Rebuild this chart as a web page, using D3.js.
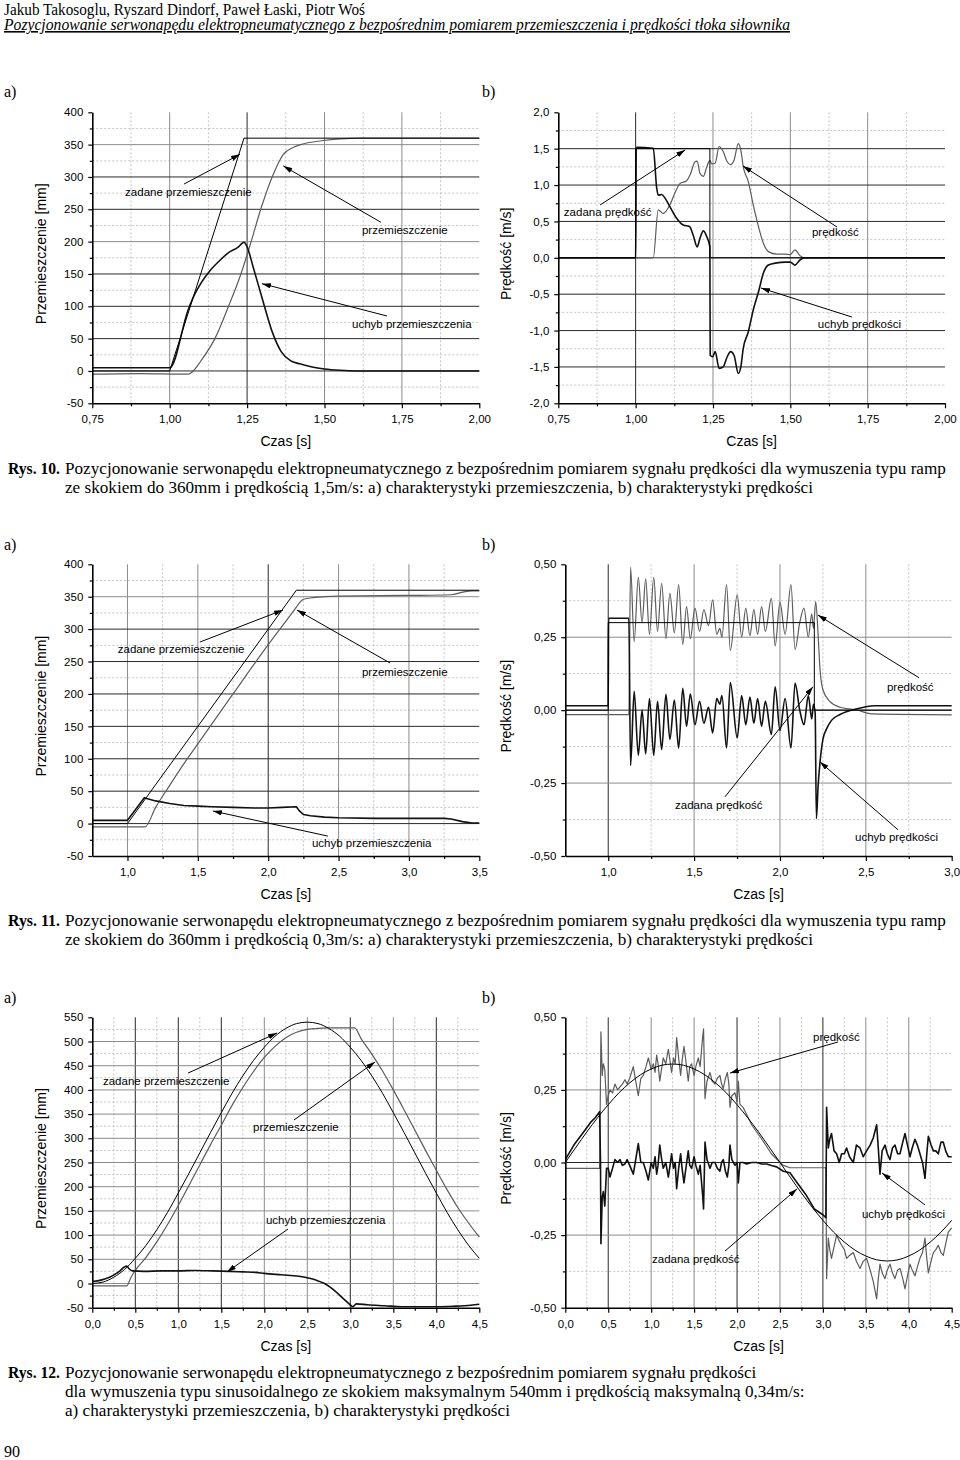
<!DOCTYPE html>
<html><head><meta charset="utf-8">
<script src="https://cdn.jsdelivr.net/npm/d3@7"></script>
<style>body{margin:0;background:#fff}</style>
</head><body><svg id="page" width="960" height="1460"></svg>
<script>
// ===================== DATA =====================
// Tick values
const xTicks10 = [0.75, 1.00, 1.25, 1.50, 1.75, 2.00];
const yTicksPos10 = [-50, 0, 50, 100, 150, 200, 250, 300, 350, 400];
const yTicksVel10 = [-2.0, -1.5, -1.0, -0.5, 0.0, 0.5, 1.0, 1.5, 2.0];
const xTicks11a = [1.0, 1.5, 2.0, 2.5, 3.0, 3.5];
const xTicks11b = [1.0, 1.5, 2.0, 2.5, 3.0];
const yTicksPos11 = [-50, 0, 50, 100, 150, 200, 250, 300, 350, 400];
const yTicksVel11 = [-0.50, -0.25, 0.00, 0.25, 0.50];
const xTicks12 = [0.0, 0.5, 1.0, 1.5, 2.0, 2.5, 3.0, 3.5, 4.0, 4.5];
const yTicksPos12 = [-50, 0, 50, 100, 150, 200, 250, 300, 350, 400, 450, 500, 550];
const yTicksVel12 = [-0.50, -0.25, 0.00, 0.25, 0.50];

// Rys. 10 a) displacement [s, mm]
const zadane10 = [[0.75,0],[1.00,0],[1.24,360],[2.00,360]];
const przem10 = [[0.75,-5],[0.90,-4],[1.06,-5],[1.076,0],[1.10,15],[1.146,50],[1.19,100],[1.23,150],[1.263,200],[1.294,250],[1.331,300],[1.367,335],[1.40,346],[1.43,351],[1.49,356],[1.55,359],[1.62,360],[1.80,360],[2.00,360]];
const uchyb10 = [[0.75,5],[1.00,5],[1.06,95],[1.08,118],[1.10,135],[1.13,155],[1.16,170],[1.19,183],[1.22,191],[1.24,199],[1.25,192],[1.27,160],[1.30,110],[1.33,62],[1.36,30],[1.39,16],[1.42,11],[1.46,6],[1.50,3],[1.55,1],[1.60,0],[2.00,0]];
// Rys. 10 b) velocity [s, m/s]
const zadanaV10 = [[0.75,0],[1.00,0],[1.00,1.5],[1.24,1.5],[1.24,0],[2.00,0]];
const predkosc10 = [[0.75,0],[1.057,0],[1.073,0.66],[1.089,0.61],[1.111,0.73],[1.127,0.89],[1.143,1.02],[1.165,1.06],[1.176,1.14],[1.192,1.32],[1.199,1.33],[1.208,1.16],[1.219,1.12],[1.23,1.25],[1.24,1.34],[1.246,1.29],[1.257,1.30],[1.27,1.53],[1.283,1.46],[1.296,1.32],[1.307,1.28],[1.318,1.34],[1.332,1.57],[1.34,1.48],[1.348,1.25],[1.364,1.05],[1.380,0.73],[1.397,0.43],[1.413,0.20],[1.429,0.085],[1.456,0.05],[1.483,0.05],[1.50,0.045],[1.515,0.11],[1.531,0.03],[1.547,0.0],[2.00,0.0]];
const uchybV10 = [[0.75,0],[1.00,0],[1.002,1.52],[1.057,1.505],[1.068,0.96],[1.073,0.86],[1.084,0.87],[1.095,0.82],[1.111,0.70],[1.133,0.54],[1.154,0.45],[1.174,0.43],[1.186,0.31],[1.199,0.15],[1.208,0.27],[1.219,0.37],[1.23,0.29],[1.24,0.15],[1.241,-1.34],[1.249,-1.36],[1.257,-1.29],[1.27,-1.52],[1.283,-1.50],[1.296,-1.36],[1.307,-1.29],[1.318,-1.34],[1.332,-1.59],[1.34,-1.50],[1.348,-1.24],[1.364,-1.02],[1.380,-0.72],[1.397,-0.47],[1.413,-0.21],[1.429,-0.10],[1.456,-0.07],[1.483,-0.06],[1.50,-0.06],[1.515,-0.10],[1.531,-0.03],[1.547,0.0],[2.00,0.0]];

// Rys. 11 a)
const zadane11 = [[0.75,0],[1.00,0],[2.20,360],[3.50,360]];
const przem11 = [[0.75,-5],[1.125,-5],[1.20,25],[1.30,59],[1.40,92],[1.50,123],[1.75,200],[2.00,276],[2.20,334],[2.22,340],[2.25,346],[2.30,348],[2.40,350],[2.50,351],[3.00,352],[3.30,353],[3.38,357],[3.45,359],[3.50,359]];
const uchyb11 = [[0.75,5],[1.00,5],[1.12,40],[1.13,39],[1.20,35],[1.30,31],[1.40,28],[1.50,27],[1.60,26],[1.75,25],[1.90,24],[2.00,24],[2.10,25],[2.20,26],[2.22,20],[2.25,14],[2.30,12],[2.40,10],[2.50,9],[2.75,8],[3.00,8],[3.25,8],[3.30,7],[3.38,3],[3.45,1],[3.50,1]];
// Rys. 11 b)
const zadanaV11 = [[0.75,0],[1.00,0],[1.00,0.3],[2.20,0.3],[2.20,0],[3.00,0]];
const predkosc11 = [[0.75,-0.015],[1.12,-0.015],[1.13,0.49],[1.151,0.235],[1.175,0.455],[1.197,0.30],[1.218,0.45],[1.24,0.26],[1.265,0.455],[1.287,0.27],[1.311,0.435],[1.336,0.246],[1.359,0.40],[1.385,0.265],[1.41,0.43],[1.434,0.225],[1.456,0.355],[1.478,0.245],[1.505,0.35],[1.532,0.27],[1.557,0.345],[1.584,0.29],[1.608,0.378],[1.632,0.26],[1.65,0.28],[1.662,0.25],[1.689,0.43],[1.711,0.205],[1.751,0.395],[1.777,0.25],[1.801,0.35],[1.825,0.255],[1.848,0.345],[1.87,0.26],[1.893,0.355],[1.915,0.27],[1.95,0.383],[1.972,0.22],[2.0,0.37],[2.03,0.26],[2.064,0.43],[2.088,0.207],[2.115,0.30],[2.14,0.35],[2.165,0.25],[2.185,0.33],[2.195,0.28],[2.208,0.372],[2.222,0.26],[2.232,0.15],[2.25,0.07],[2.29,0.03],[2.35,0.01],[2.45,0.0],[2.54,-0.013],[3.0,-0.016]];
const uchybV11 = [[0.75,0.015],[1.00,0.015],[1.002,0.315],[1.12,0.315],[1.13,-0.19],[1.151,0.065],[1.175,-0.155],[1.197,0.0],[1.218,-0.15],[1.24,0.04],[1.265,-0.155],[1.287,0.03],[1.311,-0.135],[1.336,0.054],[1.359,-0.10],[1.385,0.035],[1.41,-0.13],[1.434,0.075],[1.456,-0.055],[1.478,0.055],[1.505,-0.05],[1.532,0.03],[1.557,-0.045],[1.584,0.01],[1.608,-0.078],[1.632,0.04],[1.65,0.02],[1.662,0.05],[1.689,-0.13],[1.711,0.095],[1.751,-0.095],[1.777,0.05],[1.801,-0.05],[1.825,0.045],[1.848,-0.045],[1.87,0.04],[1.893,-0.055],[1.915,0.03],[1.95,-0.083],[1.972,0.08],[2.0,-0.07],[2.03,0.04],[2.064,-0.13],[2.088,0.093],[2.115,0.0],[2.14,-0.05],[2.165,0.05],[2.185,-0.03],[2.195,0.02],[2.205,-0.01],[2.212,-0.372],[2.222,-0.26],[2.233,-0.18],[2.25,-0.10],[2.27,-0.066],[2.30,-0.035],[2.35,-0.015],[2.45,0.005],[2.55,0.015],[3.0,0.015]];

// Rys. 12 a)
const zadane12 = [[0,0],[0.125,3],[0.25,13],[0.375,29],[0.5,52],[0.625,79],[0.75,111],[0.875,147],[1.0,187],[1.125,228],[1.25,270],[1.375,312],[1.5,353],[1.625,393],[1.75,429],[1.875,461],[2.0,488],[2.125,511],[2.25,527],[2.375,537],[2.5,540],[2.625,537],[2.75,527],[2.875,511],[3.0,488],[3.125,461],[3.25,429],[3.375,393],[3.5,353],[3.625,312],[3.75,270],[3.875,228],[4.0,187],[4.125,147],[4.25,111],[4.375,79],[4.5,52]];
const przem12 = [[0,-5],[0.40,-5],[0.45,13],[0.50,27],[0.625,54],[0.75,86],[0.875,122],[1.0,161],[1.125,203],[1.25,245],[1.375,287],[1.5,327],[1.625,368],[1.75,405],[1.875,438],[2.0,467],[2.125,490],[2.25,508],[2.375,519],[2.5,525],[2.625,527],[2.75,528],[3.05,528],[3.125,506],[3.25,474],[3.375,439],[3.5,400],[3.625,359],[3.75,317],[3.875,275],[4.0,234],[4.125,194],[4.25,157],[4.375,125],[4.5,96]];
const uchyb12 = [[0,4],[0.1,7],[0.2,13],[0.3,23],[0.40,36],[0.43,30],[0.47,26],[0.6,25],[0.8,26],[1.0,26],[1.2,27],[1.4,26],[1.6,25],[1.75,24],[1.9,23],[2.0,21],[2.2,18],[2.4,15],[2.5,12],[2.6,7],[2.7,0],[2.8,-12],[2.9,-28],[2.98,-41],[3.03,-48],[3.07,-42],[3.2,-44],[3.4,-46],[3.6,-48],[3.8,-48],[4.0,-48],[4.2,-47],[4.4,-45],[4.5,-43]];
// Rys. 12 b)
const zadanaV12 = [[0,0],[0.125,0.053],[0.25,0.105],[0.375,0.154],[0.5,0.199],[0.625,0.240],[0.75,0.274],[0.875,0.302],[1.0,0.322],[1.125,0.335],[1.25,0.339],[1.375,0.335],[1.5,0.322],[1.625,0.302],[1.75,0.274],[1.875,0.240],[2.0,0.199],[2.125,0.154],[2.25,0.105],[2.375,0.053],[2.5,0],[2.625,-0.053],[2.75,-0.105],[2.875,-0.154],[3.0,-0.199],[3.125,-0.240],[3.25,-0.274],[3.375,-0.302],[3.5,-0.322],[3.625,-0.335],[3.75,-0.339],[3.875,-0.335],[4.0,-0.322],[4.125,-0.302],[4.25,-0.274],[4.375,-0.240],[4.5,-0.199]];
const predkosc12 = [[0,-0.02],[0.40,-0.02],[0.415,0.45],[0.43,0.30],[0.443,0.34],[0.46,0.32],[0.48,0.20],[0.50,0.23],[0.52,0.25],[0.55,0.24],[0.578,0.27],[0.61,0.25],[0.637,0.26],[0.665,0.27],[0.695,0.285],[0.72,0.27],[0.75,0.29],[0.792,0.33],[0.82,0.28],[0.85,0.23],[0.88,0.29],[0.908,0.30],[0.94,0.33],[0.967,0.36],[1.0,0.32],[1.025,0.34],[1.045,0.31],[1.064,0.37],[1.08,0.34],[1.10,0.28],[1.12,0.32],[1.141,0.36],[1.17,0.34],[1.20,0.39],[1.22,0.35],[1.238,0.31],[1.26,0.36],[1.28,0.34],[1.297,0.43],[1.32,0.36],[1.343,0.30],[1.36,0.35],[1.382,0.40],[1.40,0.36],[1.432,0.28],[1.45,0.33],[1.471,0.34],[1.50,0.30],[1.52,0.33],[1.549,0.36],[1.57,0.33],[1.599,0.43],[1.61,0.46],[1.627,0.22],[1.65,0.28],[1.685,0.31],[1.71,0.28],[1.743,0.27],[1.77,0.29],[1.801,0.30],[1.82,0.27],[1.84,0.255],[1.865,0.29],[1.887,0.31],[1.905,0.27],[1.918,0.19],[1.94,0.23],[1.976,0.24],[2.0,0.21],[2.015,0.28],[2.034,0.20],[2.07,0.19],[2.112,0.165],[2.17,0.13],[2.228,0.105],[2.29,0.08],[2.345,0.055],[2.40,0.03],[2.461,0.012],[2.539,-0.01],[2.616,-0.018],[3.035,-0.018],[3.043,-0.40],[3.063,-0.26],[3.08,-0.30],[3.10,-0.33],[3.13,-0.29],[3.16,-0.25],[3.19,-0.27],[3.218,-0.285],[3.25,-0.30],[3.276,-0.33],[3.31,-0.32],[3.354,-0.31],[3.39,-0.34],[3.432,-0.365],[3.47,-0.34],[3.509,-0.33],[3.55,-0.37],[3.587,-0.41],[3.626,-0.47],[3.645,-0.40],[3.665,-0.35],[3.69,-0.38],[3.723,-0.40],[3.75,-0.37],[3.781,-0.35],[3.81,-0.38],[3.839,-0.40],[3.87,-0.37],[3.898,-0.365],[3.93,-0.40],[3.956,-0.435],[3.985,-0.39],[4.014,-0.35],[4.04,-0.37],[4.072,-0.39],[4.10,-0.36],[4.13,-0.33],[4.16,-0.31],[4.189,-0.26],[4.21,-0.33],[4.228,-0.38],[4.26,-0.34],[4.286,-0.31],[4.315,-0.30],[4.344,-0.285],[4.375,-0.31],[4.402,-0.32],[4.43,-0.28],[4.46,-0.24],[4.5,-0.225]];
const uchybV12 = [[0,0.01],[0.05,0.035],[0.10,0.06],[0.15,0.08],[0.20,0.10],[0.25,0.12],[0.30,0.14],[0.35,0.155],[0.40,0.175],[0.41,0.0],[0.415,-0.28],[0.43,-0.12],[0.443,-0.10],[0.46,-0.15],[0.48,-0.02],[0.50,-0.02],[0.52,-0.05],[0.55,-0.02],[0.578,0.01],[0.61,0.0],[0.637,0.01],[0.665,-0.01],[0.695,-0.005],[0.72,0.01],[0.75,-0.01],[0.792,-0.04],[0.82,0.01],[0.85,0.065],[0.88,0.0],[0.908,0.0],[0.94,-0.03],[0.967,-0.06],[1.0,0.0],[1.025,-0.02],[1.045,0.02],[1.064,-0.04],[1.08,-0.01],[1.10,0.06],[1.12,0.015],[1.141,-0.02],[1.17,0.0],[1.20,-0.05],[1.22,-0.01],[1.238,0.03],[1.26,-0.02],[1.28,0.0],[1.297,-0.09],[1.32,-0.02],[1.343,0.03],[1.36,-0.02],[1.382,-0.07],[1.40,-0.03],[1.432,0.04],[1.45,-0.01],[1.471,-0.02],[1.50,0.02],[1.52,-0.01],[1.549,-0.04],[1.57,-0.01],[1.599,-0.11],[1.61,-0.16],[1.627,0.07],[1.65,0.01],[1.685,-0.02],[1.71,0.0],[1.743,0.0],[1.77,-0.02],[1.801,-0.03],[1.82,0.0],[1.84,0.01],[1.865,-0.03],[1.887,-0.05],[1.905,-0.01],[1.918,0.06],[1.94,0.01],[1.976,-0.01],[2.0,0.0],[2.015,-0.07],[2.034,0.0],[2.07,0.0],[2.112,-0.005],[2.17,0.0],[2.228,0.0],[2.29,-0.005],[2.345,-0.005],[2.40,-0.01],[2.461,-0.015],[2.539,-0.03],[2.616,-0.035],[2.70,-0.07],[2.80,-0.11],[2.90,-0.16],[3.0,-0.18],[3.035,-0.19],[3.043,0.19],[3.063,0.05],[3.08,0.08],[3.10,0.10],[3.13,0.04],[3.16,0.03],[3.19,0.0],[3.218,0.03],[3.25,0.03],[3.276,0.05],[3.31,0.02],[3.354,0.0],[3.39,0.06],[3.432,0.05],[3.47,0.02],[3.509,0.04],[3.55,0.06],[3.587,0.085],[3.626,0.13],[3.645,0.05],[3.665,-0.04],[3.69,0.04],[3.723,0.06],[3.75,0.03],[3.781,0.01],[3.81,0.05],[3.839,0.06],[3.87,0.03],[3.898,0.03],[3.93,0.07],[3.956,0.10],[3.985,0.06],[4.014,0.02],[4.04,0.05],[4.072,0.08],[4.10,0.06],[4.13,0.03],[4.16,0.0],[4.189,-0.055],[4.21,0.03],[4.228,0.09],[4.26,0.06],[4.286,0.04],[4.315,0.04],[4.344,0.03],[4.375,0.07],[4.402,0.07],[4.43,0.04],[4.46,0.02],[4.5,0.02]];

// Texts
const headerAuthors = "Jakub Takosoglu, Ryszard Dindorf, Paweł Łaski, Piotr Woś";
const headerTitle = "Pozycjonowanie serwonapędu elektropneumatycznego z bezpośrednim pomiarem przemieszczenia i prędkości tłoka siłownika";
const captions = [
  {no:"Rys. 10.", lines:["Pozycjonowanie serwonapędu elektropneumatycznego z bezpośrednim pomiarem sygnału prędkości dla wymuszenia typu ramp","ze skokiem do 360mm i prędkością 1,5m/s: a) charakterystyki przemieszczenia, b) charakterystyki prędkości"]},
  {no:"Rys. 11.", lines:["Pozycjonowanie serwonapędu elektropneumatycznego z bezpośrednim pomiarem sygnału prędkości dla wymuszenia typu ramp","ze skokiem do 360mm i prędkością 0,3m/s: a) charakterystyki przemieszczenia, b) charakterystyki prędkości"]},
  {no:"Rys. 12.", lines:["Pozycjonowanie serwonapędu elektropneumatycznego z bezpośrednim pomiarem sygnału prędkości","dla wymuszenia typu sinusoidalnego ze skokiem maksymalnym 540mm i prędkością maksymalną 0,34m/s:","a) charakterystyki przemieszczenia, b) charakterystyki prędkości"]}
];
const pageNumber = "90";

// ===================== STYLE / LAYOUT =====================
const SANS = "'Liberation Sans', Arial, sans-serif";
const SERIF = "'Liberation Serif', 'Times New Roman', serif";
const ST_SET = {color:"#000", width:1.0};
const ST_ERR = {color:"#111", width:1.6};
const ST_ACT = {color:"#5c5c5c", width:1.2};
const GRID_DARK = "#2a2a2a", GRID_LIGHT = "#8c8c8c", GRID_MINOR = "#c4c4c4";
const CURVES = {lin: d3.curveLinear, mono: d3.curveMonotoneX};

const svg = d3.select("#page");
svg.append("rect").attr("width",960).attr("height",1460).attr("fill","#fff");
const defs = svg.append("defs");
defs.append("marker").attr("id","arr").attr("viewBox","0 0 10 6")
  .attr("refX",10).attr("refY",3).attr("markerWidth",9).attr("markerHeight",5.4)
  .attr("markerUnits","userSpaceOnUse").attr("orient","auto")
  .append("path").attr("d","M0,0 L10,3 L0,6 Z").attr("fill","#000");

const fmt = dec => d => d.toFixed(dec).replace(".", ",");

const charts = [
 {left:92.3,right:479.3,top:112.3,bottom:403.3,xDomain:[0.75,2.0],yDomain:[-50,400],xTicks:xTicks10,yTicks:yTicksPos10,xDec:2,yDec:0,
  yTitle:"Przemieszczenie [mm]",titleX:41.5,darkX:[1.25],darkY:[300,250,150,100,50,0],
  series:[[przem10,ST_ACT,"mono"],[uchyb10,ST_ERR,"mono"],[zadane10,ST_SET,"lin"]],
  notes:[{t:"zadane przemieszczenie",tx:0.856,ty:271,x1:1.046,y1:289,x2:1.227,y2:335},
         {t:"przemieszczenie",tx:1.621,ty:212,x1:1.682,y1:230,x2:1.367,y2:317},
         {t:"uchyb przemieszczenia",tx:1.589,ty:66,x1:1.702,y1:85,x2:1.298,y2:135}]},
 {left:558.3,right:945,top:112.3,bottom:403.3,xDomain:[0.75,2.0],yDomain:[-2,2],xTicks:xTicks10,yTicks:yTicksVel10,xDec:2,yDec:1,
  yTitle:"Prędkość [m/s]",titleX:505.7,darkX:[1.0],darkY:[1.5,1.0,0.5,0,-0.5,-1.0,-1.5],
  series:[[predkosc10,ST_ACT,"mono"],[uchybV10,ST_ERR,"mono"],[zadanaV10,ST_SET,"lin"]],
  notes:[{t:"zadana prędkość",tx:0.768,ty:0.575,x1:0.885,y1:0.726,x2:1.160,y2:1.482},
         {t:"prędkość",tx:1.570,ty:0.30,x1:1.651,y1:0.423,x2:1.347,y2:1.262},
         {t:"uchyb prędkości",tx:1.589,ty:-0.965,x1:1.699,y1:-0.814,x2:1.405,y2:-0.415}]},
 {left:92.3,right:479.3,top:564.3,bottom:856,xDomain:[0.75,3.5],yDomain:[-50,400],xTicks:xTicks11a,yTicks:yTicksPos11,xDec:1,yDec:0,
  yTitle:"Przemieszczenie [mm]",titleX:41.5,darkX:[2.0],darkY:[300,250,200,150,100,50,0],
  series:[[przem11,ST_ACT,"mono"],[uchyb11,ST_ERR,"lin"],[zadane11,ST_SET,"lin"]],
  notes:[{t:"zadane przemieszczenie",tx:0.931,ty:263,x1:1.514,y1:280,x2:2.105,y2:329.5},
         {t:"przemieszczenie",tx:2.666,ty:227.6,x1:2.866,y1:247.7,x2:2.204,y2:329.5},
         {t:"uchyb przemieszczenia",tx:2.311,ty:-36,x1:2.424,y1:-19.3,x2:1.607,y2:19.4}]},
 {left:565.3,right:951.7,top:564.3,bottom:856,xDomain:[0.75,3.0],yDomain:[-0.5,0.5],xTicks:xTicks11b,yTicks:yTicksVel11,xDec:1,yDec:2,
  yTitle:"Prędkość [m/s]",titleX:505.7,darkX:[1.0],darkY:[0],
  series:[[predkosc11,ST_ACT,"mono"],[uchybV11,ST_ERR,"mono"],[zadanaV11,ST_SET,"lin"]],
  notes:[{t:"prędkość",tx:2.623,ty:0.066,x1:2.81,y1:0.111,x2:2.221,y2:0.326},
         {t:"zadana prędkość",tx:1.389,ty:-0.339,x1:1.68,y1:-0.297,x2:2.192,y2:0.080},
         {t:"uchyb prędkości",tx:2.437,ty:-0.448,x1:2.687,y1:-0.410,x2:2.232,y2:-0.177}]},
 {left:92.3,right:479.3,top:1017.3,bottom:1307.7,xDomain:[0,4.5],yDomain:[-50,550],xTicks:xTicks12,yTicks:yTicksPos12,xDec:1,yDec:0,
  yTitle:"Przemieszczenie [mm]",titleX:41.5,darkX:[0.5,1.0,1.5,3.0,4.0],darkY:[],
  series:[[przem12,ST_ACT,"mono"],[uchyb12,ST_ERR,"mono"],[zadane12,ST_SET,"mono"]],
  notes:[{t:"zadane przemieszczenie",tx:0.124,ty:410,x1:1.113,y1:434.8,x2:2.148,y2:517.5},
         {t:"przemieszczenie",tx:1.869,ty:315,x1:2.345,y1:337.8,x2:3.287,y2:457.6},
         {t:"uchyb przemieszczenia",tx:2.019,ty:123,x1:2.276,y1:112.6,x2:1.566,y2:23.8}]},
 {left:565.3,right:951.7,top:1017.3,bottom:1307.7,xDomain:[0,4.5],yDomain:[-0.5,0.5],xTicks:xTicks12,yTicks:yTicksVel12,xDec:1,yDec:2,
  yTitle:"Prędkość [m/s]",titleX:505.7,darkX:[0.5,2.0,3.0],darkY:[0],
  series:[[predkosc12,ST_ACT,"lin"],[uchybV12,ST_ERR,"lin"],[zadanaV12,ST_SET,"mono"]],
  notes:[{t:"prędkość",tx:2.885,ty:0.418,x1:3.176,y1:0.415,x2:1.918,y2:0.308},
         {t:"zadana prędkość",tx:1.010,ty:-0.346,x1:1.860,y1:-0.305,x2:2.698,y2:-0.091},
         {t:"uchyb prędkości",tx:3.455,ty:-0.191,x1:4.189,y1:-0.146,x2:3.688,y2:-0.036}]}
];

function minors(ticks, domain){
  const out = [];
  for (let i=0;i<ticks.length-1;i++) out.push((ticks[i]+ticks[i+1])/2);
  const step = ticks[1]-ticks[0];
  const before = ticks[0]-step/2;
  if (before > domain[0]+1e-9) out.unshift(before);
  const after = ticks[ticks.length-1]+step/2;
  if (after < domain[1]-1e-9) out.push(after);
  return out;
}
const near = (arr, v) => arr.some(a => Math.abs(a-v) < 1e-9);

charts.forEach((c, ci) => {
  const x = d3.scaleLinear().domain(c.xDomain).range([c.left, c.right]);
  const y = d3.scaleLinear().domain(c.yDomain).range([c.bottom, c.top]);
  const g = svg.append("g");
  const clipId = "clip"+ci;
  defs.append("clipPath").attr("id",clipId).append("rect")
    .attr("x",c.left).attr("y",c.top-2).attr("width",c.right-c.left+2).attr("height",c.bottom-c.top+2);

  const xMin = minors(c.xTicks, c.xDomain), yMin = minors(c.yTicks, c.yDomain);
  g.selectAll(".mx").data(xMin.filter(v=>v>c.xDomain[0]+1e-9 && v<c.xDomain[1]-1e-9)).join("line")
    .attr("x1",d=>x(d)).attr("x2",d=>x(d)).attr("y1",c.top).attr("y2",c.bottom)
    .attr("stroke",GRID_MINOR).attr("stroke-width",1).attr("stroke-dasharray","2,2");
  g.selectAll(".my").data(yMin.filter(v=>v>c.yDomain[0]+1e-9 && v<c.yDomain[1]-1e-9)).join("line")
    .attr("x1",c.left).attr("x2",c.right).attr("y1",d=>y(d)).attr("y2",d=>y(d))
    .attr("stroke",GRID_MINOR).attr("stroke-width",1).attr("stroke-dasharray","2,2");
  g.selectAll(".gx").data(c.xTicks.filter(v=>v>c.xDomain[0]+1e-9 && v<c.xDomain[1]-1e-9)).join("line")
    .attr("x1",d=>x(d)).attr("x2",d=>x(d)).attr("y1",c.top).attr("y2",c.bottom)
    .attr("stroke",d=>near(c.darkX,d)?GRID_DARK:GRID_LIGHT).attr("stroke-width",1);
  g.selectAll(".gy").data(c.yTicks.filter(v=>v>c.yDomain[0]+1e-9 && v<c.yDomain[1]-1e-9)).join("line")
    .attr("x1",c.left).attr("x2",c.right).attr("y1",d=>y(d)).attr("y2",d=>y(d))
    .attr("stroke",d=>near(c.darkY,d)?GRID_DARK:GRID_LIGHT).attr("stroke-width",1);

  const sg = g.append("g").attr("clip-path",`url(#${clipId})`);
  c.series.forEach(([data, st, cv]) => {
    const line = d3.line().x(d=>x(d[0])).y(d=>y(d[1])).curve(CURVES[cv]);
    sg.append("path").datum(data).attr("d",line).attr("fill","none")
      .attr("stroke",st.color).attr("stroke-width",st.width).attr("stroke-linejoin","round");
  });

  const ax = g.append("g").attr("transform",`translate(0,${c.bottom})`)
    .call(d3.axisBottom(x).tickValues(c.xTicks).tickFormat(fmt(c.xDec)).tickSize(5).tickPadding(7).tickSizeOuter(0));
  const axm = g.append("g").attr("transform",`translate(0,${c.bottom})`)
    .call(d3.axisBottom(x).tickValues(xMin).tickFormat("").tickSize(3).tickSizeOuter(0));
  axm.select(".domain").remove();
  const ay = g.append("g").attr("transform",`translate(${c.left},0)`)
    .call(d3.axisLeft(y).tickValues(c.yTicks).tickFormat(fmt(c.yDec)).tickSize(4).tickPadding(5).tickSizeOuter(0));
  const aym = g.append("g").attr("transform",`translate(${c.left},0)`)
    .call(d3.axisLeft(y).tickValues(yMin).tickFormat("").tickSize(2.5).tickSizeOuter(0));
  aym.select(".domain").remove();
  [ax, ay, axm, aym].forEach(a => {
    a.attr("font-family",SANS).attr("font-size",11.5);
    a.selectAll("text").attr("fill","#000");
    a.selectAll("line").attr("stroke","#000").attr("stroke-width",1.2);
    a.select(".domain").attr("stroke","#000").attr("stroke-width",1.6);
  });

  g.append("text").attr("x",(c.left+c.right)/2).attr("y",c.bottom+43)
    .attr("text-anchor","middle").attr("font-family",SANS).attr("font-size",14).text("Czas [s]");
  g.append("text").attr("transform",`translate(${c.titleX},${(c.top+c.bottom)/2-4}) rotate(-90)`)
    .attr("dy","0.35em").attr("text-anchor","middle").attr("font-family",SANS).attr("font-size",14).text(c.yTitle);

  c.notes.forEach(n => {
    g.append("line").attr("x1",x(n.x1)).attr("y1",y(n.y1)).attr("x2",x(n.x2)).attr("y2",y(n.y2))
      .attr("stroke","#000").attr("stroke-width",1).attr("marker-end","url(#arr)");
    g.append("text").attr("x",x(n.tx)).attr("y",y(n.ty)).attr("font-family",SANS)
      .attr("font-size",11.5).attr("fill","#000").text(n.t);
  });
});

// ===================== PAGE TEXT =====================
svg.append("text").attr("x",4).attr("y",15).attr("font-family",SERIF).attr("font-size",16)
  .attr("textLength",361).attr("lengthAdjust","spacingAndGlyphs").text(headerAuthors);
svg.append("text").attr("x",4).attr("y",30).attr("font-family",SERIF).attr("font-size",16)
  .attr("font-style","italic").attr("text-decoration","underline")
  .attr("textLength",786).attr("lengthAdjust","spacingAndGlyphs").text(headerTitle);

const abY = [97, 550, 1003];
abY.forEach(yy => {
  svg.append("text").attr("x",4).attr("y",yy).attr("font-family",SERIF).attr("font-size",16).text("a)");
  svg.append("text").attr("x",482).attr("y",yy).attr("font-family",SERIF).attr("font-size",16).text("b)");
});

const probe = svg.append("text").attr("font-family",SERIF).attr("font-size",16).text(captions[0].lines[0]);
const capSize = 16 * 882 / probe.node().getComputedTextLength();
probe.remove();
const capBase = [474, 925.5, 1378.4];
captions.forEach((cap, i) => {
  svg.append("text").attr("x",8).attr("y",capBase[i]).attr("font-family",SERIF)
    .attr("font-size",capSize).attr("font-weight","bold")
    .attr("textLength",52).attr("lengthAdjust","spacingAndGlyphs").text(cap.no);
  cap.lines.forEach((ln, j) => {
    svg.append("text").attr("x",65).attr("y",capBase[i]+j*19).attr("font-family",SERIF)
      .attr("font-size",capSize).text(ln);
  });
});
svg.append("text").attr("x",4).attr("y",1457).attr("font-family",SERIF).attr("font-size",16).text(pageNumber);
</script></body></html>
